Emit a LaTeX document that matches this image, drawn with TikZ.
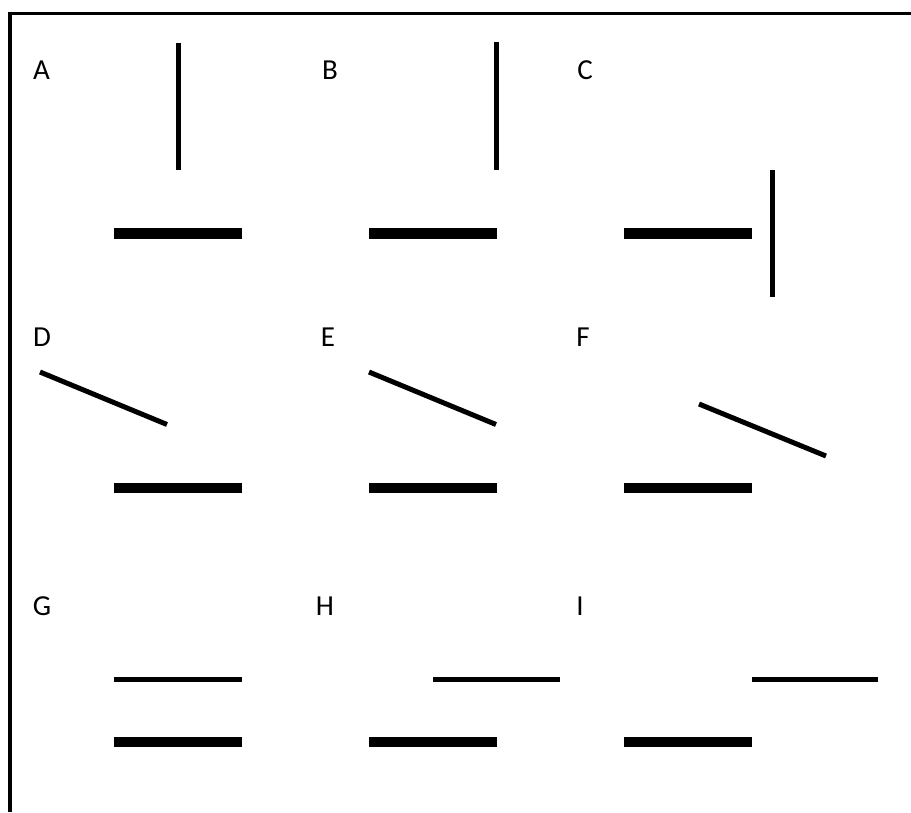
\documentclass[tikz,border=0pt]{standalone}
\usepackage{fontspec}
\setmainfont{Carlito}
\tikzset{
  lbl/.style={anchor=base,inner sep=0pt,font=\fontsize{29}{30}\selectfont},
  thickbar/.style={line width=10.5pt,line cap=butt},
  thinbar/.style={line width=5pt,line cap=butt},
  frameline/.style={line width=3.5pt,line cap=butt,line join=miter}
}
\begin{document}
\begin{tikzpicture}[x=1pt,y=-1pt]
\useasboundingbox (0,0) rectangle (911,812);
% frame (top and left only)
\draw[frameline] (10,812) -- (10,13.5) -- (911,13.5);
% labels
\node[lbl] (lA) at (41.5,79) {A};
\node[lbl] (lB) at (330,79) {B};
\node[lbl] (lC) at (585,79) {C};
\node[lbl] (lD) at (42,346) {D};
\node[lbl] (lE) at (328,346) {E};
\node[lbl] (lF) at (583,346) {F};
\node[lbl] (lG) at (42,615) {G};
\node[lbl] (lH) at (325,615) {H};
\node[lbl] (lI) at (580,615) {I};
% row 1
\draw[thickbar] (114,233.5) -- (242,233.5);
\draw[thickbar] (369,233.5) -- (497,233.5);
\draw[thickbar] (624,233.5) -- (752,233.5);
\draw[thinbar] (178.3,43) -- (178.3,170);
\draw[thinbar] (496.8,42) -- (496.8,170);
\draw[thinbar] (772.5,170) -- (772.5,297);
% row 2
\draw[thickbar] (114,488) -- (242,488);
\draw[thickbar] (369,488) -- (497,488);
\draw[thickbar] (624,488) -- (752,488);
\draw[thinbar] (40,372) -- (167,424.5);
\draw[thinbar] (369,372) -- (496,424.5);
\draw[thinbar] (699,404) -- (826,456);
% row 3
\draw[thickbar] (114,742) -- (242,742);
\draw[thickbar] (369,742) -- (497,742);
\draw[thickbar] (624,742) -- (752,742);
\draw[thinbar] (114,679) -- (242,679);
\draw[thinbar] (433,679) -- (560,679);
\draw[thinbar] (752,679) -- (878,679);
\end{tikzpicture}
\end{document}
